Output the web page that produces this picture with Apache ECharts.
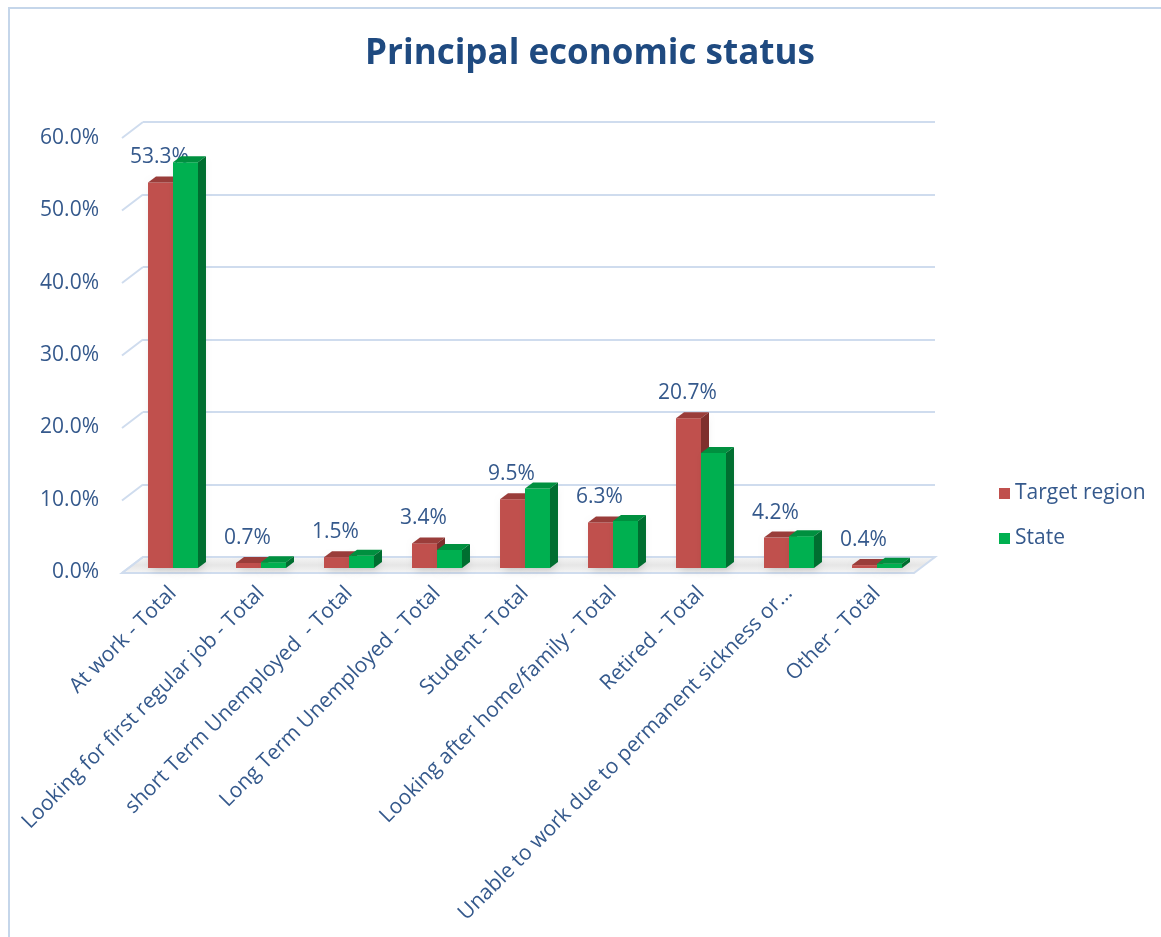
<!DOCTYPE html>
<html><head><meta charset="utf-8">
<script src="https://cdn.jsdelivr.net/npm/echarts@6/dist/echarts.min.js"></script>
<style>html,body{margin:0;padding:0;background:#fff}#c{width:1161px;height:937px}</style>
</head><body><div id="c"></div>
<script>
const categories = [
  'At work - Total',
  'Looking for first regular job - Total',
  'short Term Unemployed  - Total',
  'Long Term Unemployed - Total',
  'Student - Total',
  'Looking after home/family - Total',
  'Retired - Total',
  'Unable to work due to permanent sickness or…',
  'Other - Total'
];
const targetRegion = [53.3, 0.7, 1.5, 3.4, 9.5, 6.3, 20.7, 4.2, 0.4];
const stateValues  = [56.1, 0.8, 1.7, 2.5, 11.0, 6.5, 15.9, 4.4, 0.6];
const yTicks = [0, 10, 20, 30, 40, 50, 60];

const FONT = 'Open Sans';
const TXT = '#35598c';
const GRIDC = '#cfdcee';

const colors = [
  {front: '#c0504d', top: '#9a3d3a', side: '#7f2f2d'},
  {front: '#00b050', top: '#00903f', side: '#006e30'}
];

function bar3d(si, showLabel) {
  return function (params, api) {
    const ci = api.value(0), v = api.value(1);
    const base = api.coord([ci, 0]);
    const top = api.coord([ci, v]);
    const band = api.size([1, 0])[0];
    const w = band * 0.284;
    const x0 = si === 0 ? base[0] - w : base[0];
    const dx = 8, dy = 6;
    const ty = top[1], by = base[1];
    const c = colors[si];
    const children = [
      {type: 'rect', shape: {x: x0, y: ty, width: w, height: by - ty},
       style: {fill: c.front, shadowBlur: 8, shadowColor: 'rgba(0,0,0,0.18)', shadowOffsetX: 4, shadowOffsetY: 2}},
      {type: 'polygon', shape: {points: [[x0, ty], [x0 + w, ty], [x0 + w + dx, ty - dy], [x0 + dx, ty - dy]]},
       style: {fill: c.top}},
      {type: 'polygon', shape: {points: [[x0 + w, ty], [x0 + w + dx, ty - dy], [x0 + w + dx, by - dy], [x0 + w, by]]},
       style: {fill: c.side}}
    ];
    if (showLabel) {
      children.push({type: 'text', x: x0 + w / 2 - 1, y: ty - 25,
        style: {text: v.toFixed(1) + '%', fill: TXT, font: '21px "' + FONT + '"', align: 'center', verticalAlign: 'middle'}});
    }
    return {type: 'group', children};
  };
}

const chart = echarts.init(document.getElementById('c'), null, {renderer: 'canvas'});
chart.setOption({
  animation: false,
  backgroundColor: '#ffffff',
  title: {
    text: 'Principal economic status', left: 585, top: 32, textAlign: 'center',
    textStyle: {fontFamily: FONT, fontWeight: 'bold', fontSize: 35, color: '#1f4a80'}
  },
  legend: {
    orient: 'vertical', left: 994, top: 478, itemWidth: 11, itemHeight: 11, itemGap: 24, icon: 'rect',
    textStyle: {fontFamily: FONT, fontSize: 21, color: TXT},
    data: ['Target region', 'State']
  },
  graphic: [{
    type: 'rect', shape: {x: 9, y: 8, width: 1200, height: 1000},
    style: {fill: 'none', stroke: '#c5d6ea', lineWidth: 2}, silent: true, z: -10
  }],
  grid: [
    {left: 129, right: 240, top: 134, bottom: 369},
    {left: 143, right: 226, top: 122, bottom: 380},
    {left: 122, right: 240, top: 138, bottom: 365}
  ],
  xAxis: [
    {gridIndex: 0, type: 'category', data: categories, axisLine: {show: false}, axisTick: {show: false},
     axisLabel: {rotate: 45, margin: 22, interval: 0, fontFamily: FONT, fontSize: 21, color: TXT}},
    {gridIndex: 1, type: 'value', min: 0, max: 1, show: false},
    {gridIndex: 2, type: 'value', min: 0, max: 1, show: false}
  ],
  yAxis: [
    {gridIndex: 0, type: 'value', min: 0, max: 60, interval: 10, show: false},
    {gridIndex: 1, type: 'value', min: 0, max: 60, interval: 10,
     axisLine: {show: false}, axisTick: {show: false}, axisLabel: {show: false},
     splitLine: {show: true, lineStyle: {color: GRIDC, width: 2}}},
    {gridIndex: 2, type: 'value', min: 0, max: 60, interval: 10,
     axisLine: {show: false}, axisTick: {show: false}, splitLine: {show: false},
     axisLabel: {margin: 23, fontFamily: FONT, fontSize: 21, color: TXT, formatter: v => v.toFixed(1) + '%'}}
  ],
  series: [
    {
      name: 'floor', type: 'custom', xAxisIndex: 1, yAxisIndex: 1, silent: true, z: 0,
      data: [[0, 0]],
      renderItem: function (params, api) {
        const bl = api.coord([0, 0]), br = api.coord([1, 0]);
        const ox = -21, oy = 16;
        return {type: 'group', children: [
          {type: 'polygon', shape: {points: [bl, br, [br[0] + ox, br[1] + oy], [bl[0] + ox, bl[1] + oy]]},
           style: {fill: {type: 'linear', x: 0, y: 0, x2: 0, y2: 1, colorStops: [
             {offset: 0, color: '#f7f7f7'}, {offset: 0.5, color: '#e6e6e6'}, {offset: 1, color: '#f7f7f7'}]},
             stroke: GRIDC, lineWidth: 2}}
        ]};
      }
    },
    {
      name: 'diag', type: 'custom', xAxisIndex: 1, yAxisIndex: 1, silent: true, z: 1,
      data: yTicks.map(t => [0, t]),
      renderItem: function (params, api) {
        const p = api.coord([0, api.value(1)]);
        return {type: 'line', shape: {x1: p[0], y1: p[1], x2: p[0] - 21, y2: p[1] + 16},
                style: {stroke: GRIDC, lineWidth: 2}};
      }
    },
    {
      name: 'Target region', type: 'custom', xAxisIndex: 0, yAxisIndex: 0, z: 2,
      itemStyle: {color: '#c0504d'},
      data: targetRegion.map((v, i) => [i, v]),
      renderItem: bar3d(0, true)
    },
    {
      name: 'State', type: 'custom', xAxisIndex: 0, yAxisIndex: 0, z: 2,
      itemStyle: {color: '#00b050'},
      data: stateValues.map((v, i) => [i, v]),
      renderItem: bar3d(1, false)
    }
  ]
});
</script></body></html>
